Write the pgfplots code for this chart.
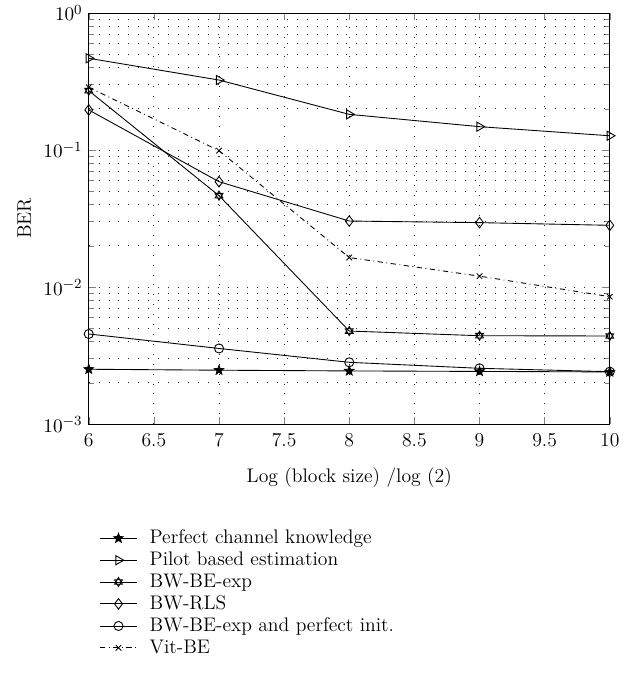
\documentclass[border=0pt]{standalone}
\usepackage{pgfplots}
\pgfplotsset{compat=1.18}
\pgfdeclareplotmark{hexagram}{%
 \pgfpathmoveto{\pgfqpointpolar{90}{\pgfplotmarksize}}%
 \pgfpathlineto{\pgfqpointpolar{210}{\pgfplotmarksize}}%
 \pgfpathlineto{\pgfqpointpolar{330}{\pgfplotmarksize}}%
 \pgfpathclose
 \pgfpathmoveto{\pgfqpointpolar{270}{\pgfplotmarksize}}%
 \pgfpathlineto{\pgfqpointpolar{30}{\pgfplotmarksize}}%
 \pgfpathlineto{\pgfqpointpolar{150}{\pgfplotmarksize}}%
 \pgfpathclose
 \pgfusepathqstroke}
\pgfdeclareplotmark{fstar}{%
 \pgfpathmoveto{\pgfqpointpolar{90}{\pgfplotmarksize}}%
 \pgfpathlineto{\pgfqpointpolar{126}{0.42\pgfplotmarksize}}%
 \pgfpathlineto{\pgfqpointpolar{162}{\pgfplotmarksize}}%
 \pgfpathlineto{\pgfqpointpolar{198}{0.42\pgfplotmarksize}}%
 \pgfpathlineto{\pgfqpointpolar{234}{\pgfplotmarksize}}%
 \pgfpathlineto{\pgfqpointpolar{270}{0.42\pgfplotmarksize}}%
 \pgfpathlineto{\pgfqpointpolar{306}{\pgfplotmarksize}}%
 \pgfpathlineto{\pgfqpointpolar{342}{0.42\pgfplotmarksize}}%
 \pgfpathlineto{\pgfqpointpolar{18}{\pgfplotmarksize}}%
 \pgfpathlineto{\pgfqpointpolar{54}{0.42\pgfplotmarksize}}%
 \pgfpathclose
 \pgfusepathqfillstroke}
\begin{document}
\begin{tikzpicture}
\path[use as bounding box] (-50.6pt,-146.5pt) rectangle (313.7pt,241.7pt);
\begin{axis}[
  scale only axis,
  width=297pt, height=234.3pt,
  font=\fontsize{11.2}{13.4}\selectfont,
  ymode=log,
  xmin=6, xmax=10, ymin=1e-3, ymax=1,
  xtick={6,6.5,...,10},
  xticklabels={6,6.5,7,7.5,8,8.5,9,9.5,10},
  xticklabel style={yshift=-2pt},
  ytick={1e-3,1e-2,1e-1,1},
  tick align=inside,
  xmajorgrids, ymajorgrids, yminorgrids,
  major grid style={black!85, line width=0.45pt, dash pattern=on 0.45pt off 5.2pt},
  minor grid style={black!85, line width=0.45pt, dash pattern=on 0.45pt off 5.2pt},
  xlabel={Log (block size) /log (2)},
  xlabel style={yshift=-5pt},
  ylabel={BER},
  legend style={at={(0.01,-0.24)}, anchor=north west, draw=none, fill=none,
    cells={anchor=west}, row sep=-0.8pt, font=\fontsize{11.2}{13.4}\selectfont},
  legend cell align=left,
  legend image code/.code={%
    \draw[mark repeat=2,mark phase=2,#1] plot coordinates {(0cm,0cm)(0.37cm,0cm)(0.74cm,0cm)};
    \path (0.74cm+5pt,0cm);},
  every axis plot/.append style={black, line width=0.5pt, mark size=2.6pt},
]
\addplot[mark=fstar, mark options={fill=black, solid}, mark size=2.8pt] coordinates {
 (6,0.00251) (7,0.00247) (8,0.00244) (9,0.00242) (10,0.0024)};
\addlegendentry{Perfect channel knowledge}
\addplot[mark=triangle, mark options={rotate=-90, solid}, mark size=3pt] coordinates {
 (6,0.467) (7,0.324) (8,0.182) (9,0.148) (10,0.127)};
\addlegendentry{Pilot based estimation}
\addplot[mark=hexagram, mark options={solid}] coordinates {
 (6,0.271) (7,0.0464) (8,0.00477) (9,0.00441) (10,0.00439)};
\addlegendentry{BW-BE-exp}
\addplot[mark=diamond, mark options={solid}, mark size=3pt] coordinates {
 (6,0.196) (7,0.0587) (8,0.0303) (9,0.0295) (10,0.0282)};
\addlegendentry{BW-RLS}
\addplot[mark=o, mark options={solid}] coordinates {
 (6,0.00454) (7,0.00356) (8,0.00282) (9,0.00255) (10,0.00241)};
\addlegendentry{BW-BE-exp and perfect init.}
\addplot[mark=x, dash dot, mark options={solid}, mark size=2.2pt] coordinates {
 (6,0.287) (7,0.0989) (8,0.0164) (9,0.0120) (10,0.0085)};
\addlegendentry{Vit-BE}
\end{axis}
\end{tikzpicture}
\end{document}
